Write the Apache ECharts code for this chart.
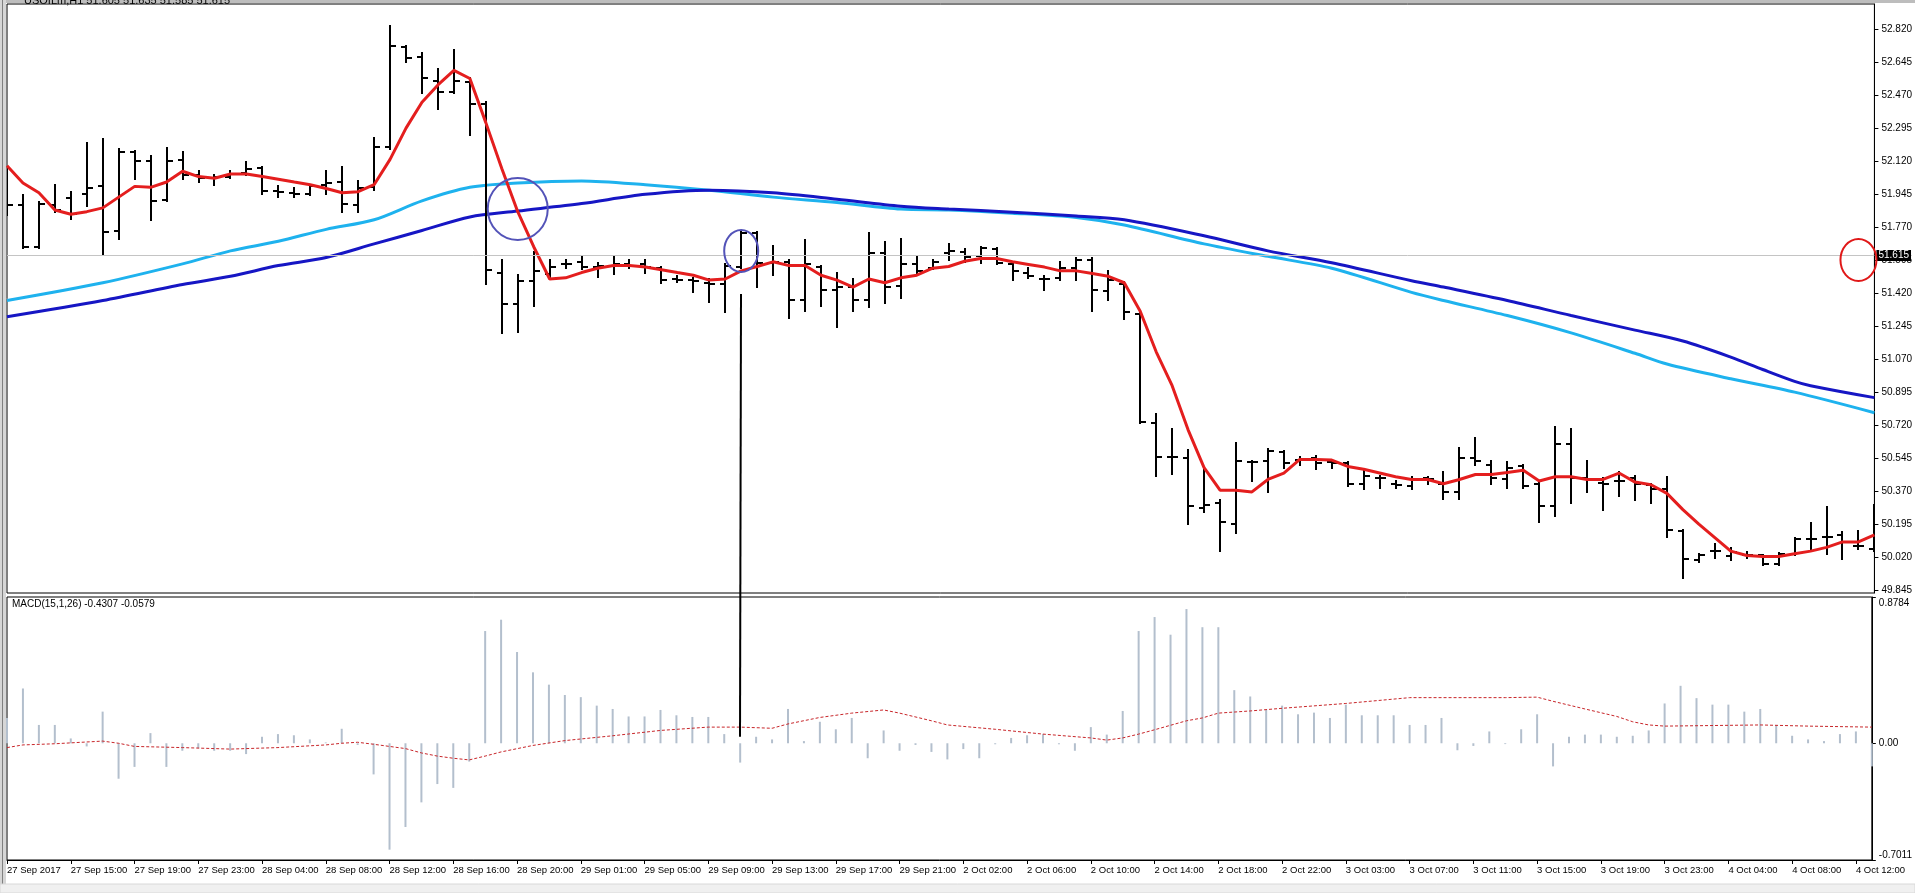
<!DOCTYPE html>
<html><head><meta charset="utf-8">
<script src="https://cdn.jsdelivr.net/npm/echarts@6/dist/echarts.min.js"></script>
<style>html,body{margin:0;padding:0;background:#fff;overflow:hidden}#c{width:1915px;height:893px}</style>
</head><body><div id="c"></div>
<script>
const categories = [
'27 Sep 11:00','27 Sep 12:00','27 Sep 13:00','27 Sep 14:00','27 Sep 15:00','27 Sep 16:00','27 Sep 17:00','27 Sep 18:00','27 Sep 19:00','27 Sep 20:00','27 Sep 21:00','27 Sep 22:00','27 Sep 23:00',
'28 Sep 01:00','28 Sep 02:00','28 Sep 03:00','28 Sep 04:00','28 Sep 05:00','28 Sep 06:00','28 Sep 07:00','28 Sep 08:00','28 Sep 09:00','28 Sep 10:00','28 Sep 11:00','28 Sep 12:00','28 Sep 13:00','28 Sep 14:00','28 Sep 15:00','28 Sep 16:00','28 Sep 17:00','28 Sep 18:00','28 Sep 19:00','28 Sep 20:00','28 Sep 21:00','28 Sep 22:00','28 Sep 23:00',
'29 Sep 01:00','29 Sep 02:00','29 Sep 03:00','29 Sep 04:00','29 Sep 05:00','29 Sep 06:00','29 Sep 07:00','29 Sep 08:00','29 Sep 09:00','29 Sep 10:00','29 Sep 11:00','29 Sep 12:00','29 Sep 13:00','29 Sep 14:00','29 Sep 15:00','29 Sep 16:00','29 Sep 17:00','29 Sep 18:00','29 Sep 19:00','29 Sep 20:00','29 Sep 21:00','29 Sep 22:00','29 Sep 23:00',
'2 Oct 01:00','2 Oct 02:00','2 Oct 03:00','2 Oct 04:00','2 Oct 05:00','2 Oct 06:00','2 Oct 07:00','2 Oct 08:00','2 Oct 09:00','2 Oct 10:00','2 Oct 11:00','2 Oct 12:00','2 Oct 13:00','2 Oct 14:00','2 Oct 15:00','2 Oct 16:00','2 Oct 17:00','2 Oct 18:00','2 Oct 19:00','2 Oct 20:00','2 Oct 21:00','2 Oct 22:00','2 Oct 23:00',
'3 Oct 01:00','3 Oct 02:00','3 Oct 03:00','3 Oct 04:00','3 Oct 05:00','3 Oct 06:00','3 Oct 07:00','3 Oct 08:00','3 Oct 09:00','3 Oct 10:00','3 Oct 11:00','3 Oct 12:00','3 Oct 13:00','3 Oct 14:00','3 Oct 15:00','3 Oct 16:00','3 Oct 17:00','3 Oct 18:00','3 Oct 19:00','3 Oct 20:00','3 Oct 21:00','3 Oct 22:00','3 Oct 23:00',
'4 Oct 01:00','4 Oct 02:00','4 Oct 03:00','4 Oct 04:00','4 Oct 05:00','4 Oct 06:00','4 Oct 07:00','4 Oct 08:00','4 Oct 09:00','4 Oct 10:00','4 Oct 11:00','4 Oct 12:00','4 Oct 13:00'
];
const firstLabel = '27 Sep 2017';

const openP = [
52.039,51.890,51.667,51.890,51.925,51.947,51.987,51.753,52.167,52.119,
51.916,52.125,52.045,52.033,52.039,52.056,52.082,51.965,51.953,51.947,
51.993,52.010,51.890,51.982,52.196,52.725,52.673,52.547,52.487,52.539,
52.425,51.530,51.362,51.487,51.525,51.573,51.587,51.559,51.567,51.576,
51.576,51.553,51.496,51.490,51.473,51.467,51.559,51.739,51.582,51.587,
51.382,51.559,51.439,51.453,51.382,51.633,51.459,51.576,51.553,51.633,
51.639,51.616,51.653,51.576,51.530,51.496,51.502,51.553,51.596,51.433,
51.467,51.310,50.730,50.553,50.547,50.282,50.310,50.196,50.525,50.530,
50.576,50.536,50.547,50.525,50.519,50.410,50.439,50.410,50.396,50.439,
50.410,50.367,50.547,50.510,50.433,50.502,50.410,50.290,50.619,50.439,
50.416,50.425,50.439,50.405,50.382,50.159,50.005,50.053,50.025,50.033,
50.030,49.987,50.039,50.119,50.130,50.139,50.082,50.062];
const highP = [
52.082,51.939,51.902,51.996,51.959,52.216,52.239,52.187,52.176,52.147,
52.193,52.167,52.067,52.045,52.067,52.116,52.090,51.987,51.976,51.993,
52.067,52.090,52.016,52.245,52.839,52.730,52.696,52.610,52.710,52.559,
52.433,51.596,51.519,51.639,51.596,51.596,51.616,51.582,51.616,51.596,
51.596,51.559,51.510,51.502,51.496,51.576,51.753,51.747,51.673,51.596,
51.702,51.567,51.530,51.496,51.739,51.690,51.710,51.610,51.596,51.682,
51.653,51.667,51.662,51.582,51.553,51.510,51.587,51.605,51.605,51.539,
51.482,51.319,50.782,50.702,50.587,50.496,50.325,50.625,50.530,50.596,
50.582,50.553,50.559,50.530,50.525,50.482,50.453,50.425,50.445,50.445,
50.473,50.602,50.653,50.530,50.525,50.510,50.416,50.710,50.702,50.530,
50.439,50.473,50.453,50.410,50.445,50.167,50.039,50.090,50.067,50.047,
50.033,50.045,50.125,50.202,50.287,50.153,50.159,50.296];
const lowP = [
51.833,51.662,51.662,51.853,51.816,51.882,51.625,51.710,52.025,51.810,
51.910,52.025,52.010,51.996,52.033,52.045,51.947,51.930,51.930,51.942,
51.947,51.853,51.853,51.967,52.187,52.645,52.482,52.396,52.482,52.262,
51.467,51.210,51.216,51.353,51.496,51.553,51.547,51.505,51.525,51.553,
51.530,51.473,51.482,51.425,51.376,51.319,51.553,51.453,51.519,51.290,
51.325,51.353,51.239,51.325,51.347,51.367,51.396,51.525,51.547,51.596,
51.587,51.582,51.576,51.490,51.502,51.439,51.490,51.490,51.325,51.387,
51.282,50.730,50.453,50.462,50.196,50.262,50.053,50.147,50.425,50.367,
50.496,50.510,50.490,50.496,50.396,50.382,50.387,50.387,50.382,50.410,
50.330,50.330,50.510,50.410,50.387,50.387,50.205,50.239,50.310,50.367,
50.273,50.347,50.325,50.310,50.130,49.910,49.996,50.016,50.005,50.016,
49.982,49.982,50.033,50.053,50.039,50.010,50.062,50.053];
const closeP = [
51.890,51.667,51.896,51.862,51.839,51.976,51.745,52.167,52.119,51.910,
52.119,52.045,52.033,52.039,52.053,52.079,51.965,51.959,51.947,51.987,
52.005,51.896,51.976,52.196,52.730,52.667,52.559,52.490,52.547,52.425,
51.545,51.362,51.487,51.539,51.559,51.573,51.559,51.567,51.576,51.567,
51.559,51.490,51.490,51.487,51.467,51.567,51.739,51.582,51.587,51.382,
51.573,51.439,51.453,51.382,51.633,51.453,51.576,51.539,51.587,51.645,
51.610,51.662,51.582,51.539,51.510,51.496,51.553,51.596,51.439,51.490,
51.319,50.739,50.553,50.553,50.290,50.296,50.205,50.530,50.525,50.582,
50.519,50.536,50.519,50.519,50.410,50.453,50.439,50.405,50.433,50.433,
50.367,50.545,50.530,50.439,50.496,50.396,50.290,50.619,50.439,50.433,
50.410,50.425,50.410,50.382,50.167,50.010,50.033,50.053,50.047,50.033,
49.987,50.039,50.119,50.119,50.130,50.102,50.082,50.153];

const fastMA = [
52.096,52.005,51.953,51.862,51.839,51.853,51.873,51.930,51.987,51.982,
52.010,52.067,52.039,52.030,52.053,52.053,52.039,52.025,52.010,51.996,
51.976,51.953,51.959,51.996,52.130,52.296,52.433,52.525,52.602,52.559,
52.325,52.082,51.853,51.667,51.496,51.502,51.530,51.553,51.567,51.567,
51.559,51.545,51.530,51.516,51.490,51.496,51.539,51.562,51.587,51.567,
51.567,51.516,51.490,51.453,51.496,51.476,51.502,51.516,51.553,51.562,
51.590,51.605,51.605,51.587,51.573,51.559,51.539,51.539,51.525,51.510,
51.476,51.325,51.110,50.930,50.696,50.496,50.376,50.376,50.367,50.433,
50.467,50.539,50.539,50.536,50.502,50.487,50.467,50.447,50.433,50.433,
50.410,50.433,50.459,50.459,50.470,50.482,50.425,50.447,50.447,50.433,
50.433,50.467,50.419,50.405,50.359,50.273,50.196,50.125,50.053,50.030,
50.025,50.025,50.039,50.053,50.073,50.102,50.102,50.139];

const lightMA = [[0,51.382],[6,51.476],[11,51.576],[14,51.645],[17,51.696],[20,51.759],[23,51.810],[26,51.910],[29,51.982],[32,52.005],[36,52.016],[40,51.996],[44,51.967],[48,51.930],[52,51.902],[56,51.867],[59,51.862],[63,51.845],[67,51.822],[70,51.782],[75,51.682],[79,51.616],[83,51.553],[88,51.425],[90,51.382],[94,51.302],[98,51.210],[102,51.102],[104,51.045],[108,50.967],[112,50.896],[117,50.787]];
const darkMA = [[0,51.296],[6,51.382],[11,51.467],[14,51.510],[17,51.567],[20,51.610],[23,51.682],[26,51.753],[29,51.825],[32,51.856],[36,51.896],[40,51.945],[44,51.967],[48,51.953],[52,51.919],[56,51.882],[59,51.867],[63,51.850],[67,51.830],[70,51.810],[75,51.725],[79,51.645],[83,51.582],[88,51.487],[90,51.453],[94,51.382],[98,51.302],[102,51.225],[105,51.167],[108,51.082],[110,51.016],[112,50.953],[113,50.930],[117,50.867]];

const macdHist = [
0.152,0.329,0.110,0.110,0.029,-0.019,0.190,-0.213,-0.142,0.061,
-0.142,-0.045,-0.030,-0.045,-0.045,-0.065,0.039,0.055,0.048,0.023,
0.005,0.087,-0.010,-0.187,-0.639,-0.503,-0.355,-0.245,-0.268,-0.110,
0.674,0.742,0.548,0.426,0.352,0.290,0.277,0.226,0.206,0.161,
0.161,0.200,0.168,0.158,0.158,0.055,-0.116,0.039,0.023,0.206,
0.013,0.129,0.084,0.152,-0.090,0.077,-0.045,-0.010,-0.052,-0.097,
-0.035,-0.090,-0.006,0.032,0.048,0.055,-0.006,-0.045,0.097,0.052,
0.194,0.674,0.758,0.652,0.806,0.697,0.697,0.319,0.281,0.200,
0.226,0.174,0.184,0.152,0.232,0.168,0.168,0.168,0.110,0.110,
0.152,-0.042,-0.016,0.071,-0.005,0.084,0.174,-0.139,0.039,0.052,
0.052,0.039,0.045,0.077,0.239,0.345,0.271,0.232,0.232,0.190,
0.206,0.110,0.045,0.023,0.013,0.055,0.071,-0.139];
const macdSignal = [[0,-0.026],[1,-0.010],[3,-0.003],[6,0.013],[7,0.000],[8,-0.019],[11,-0.026],[14,-0.035],[17,-0.026],[20,-0.010],[21,0.000],[22,0.006],[23,-0.006],[24,-0.019],[25,-0.032],[26,-0.058],[27,-0.077],[28,-0.090],[29,-0.100],[30,-0.077],[31,-0.052],[33,-0.013],[35,0.016],[38,0.045],[41,0.077],[44,0.097],[46,0.097],[48,0.090],[49,0.116],[51,0.155],[53,0.181],[55,0.200],[56,0.181],[58,0.135],[59,0.110],[62,0.084],[65,0.055],[68,0.032],[69,0.019],[70,0.032],[71,0.055],[72,0.081],[74,0.135],[75,0.152],[76,0.181],[78,0.194],[80,0.210],[84,0.239],[88,0.274],[94,0.274],[96,0.277],[97,0.252],[99,0.206],[101,0.161],[102,0.129],[103,0.110],[104,0.103],[110,0.110],[113,0.103],[117,0.097]];

const priceTicks = [49.845,50.020,50.195,50.370,50.545,50.720,50.895,51.070,51.245,51.420,51.595,51.770,51.945,52.120,52.295,52.470,52.645,52.820];
const macdTicks = [-0.7011,0,0.8784];
const currentPrice = 51.615;
const titleText = 'USOILm,H1 51.605 51.635 51.585 51.615';
const macdText = 'MACD(15,1,26) -0.4307 -0.0579';

const FONT = 'Liberation Sans';
const chart = echarts.init(document.getElementById('c'), null, {renderer:'canvas'});

const ohlcData = categories.map((c,i)=>[i, openP[i], highP[i], lowP[i], closeP[i]]);

function renderOHLC(params, api){
  const i = api.value(0);
  const o = api.coord([i, api.value(1)]);
  const h = api.coord([i, api.value(2)]);
  const l = api.coord([i, api.value(3)]);
  const c = api.coord([i, api.value(4)]);
  const x = Math.round(h[0]);
  const st = {stroke:'#000', lineWidth:2};
  return {type:'group', children:[
    {type:'line', shape:{x1:x, y1:Math.round(h[1])-1, x2:x, y2:Math.round(l[1])+1}, style:st},
    {type:'line', shape:{x1:x-5, y1:Math.round(o[1]), x2:x, y2:Math.round(o[1])}, style:st},
    {type:'line', shape:{x1:x, y1:Math.round(c[1]), x2:x+6, y2:Math.round(c[1])}, style:st}
  ]};
}

const option = {
  animation:false,
  backgroundColor:'#fff',
  grid:[
    {left:7, right:34, top:4, height:589, show:true, borderColor:'#000', borderWidth:1, backgroundColor:'#fff'},
    {left:7, right:34, top:597, height:263, show:true, borderColor:'#000', borderWidth:1, backgroundColor:'#fff'}
  ],
  xAxis:[
    {type:'category', gridIndex:0, data:categories, boundaryGap:false, axisLine:{show:false, onZero:false}, axisTick:{show:false}, axisLabel:{show:false}, splitLine:{show:false}},
    {type:'category', gridIndex:1, data:categories, boundaryGap:false,
      axisLine:{show:true, onZero:false, lineStyle:{color:'#000', width:1}},
      axisTick:{show:true, interval:3, length:4, lineStyle:{color:'#000'}},
      axisLabel:{interval:3, align:'left', margin:5, fontSize:9.5, fontFamily:FONT, color:'#000',
        formatter:(v,idx)=> idx===0 ? firstLabel : v},
      splitLine:{show:false}}
  ],
  yAxis:[
    {type:'value', gridIndex:0, position:'right', min:49.831, max:52.954,
      axisLine:{show:true, onZero:false, lineStyle:{color:'#000'}},
      axisTick:{show:true, length:4, customValues:priceTicks, lineStyle:{color:'#000'}},
      axisLabel:{customValues:priceTicks, formatter:v=>v.toFixed(3), fontSize:10, margin:7, color:'#000', fontFamily:FONT},
      splitLine:{show:false}},
    {type:'value', gridIndex:1, position:'right', min:-0.7011, max:0.8784,
      axisLine:{show:true, onZero:false, lineStyle:{color:'#000'}},
      axisTick:{show:true, length:4, customValues:macdTicks, lineStyle:{color:'#000'}},
      axisLabel:{customValues:macdTicks, fontSize:10, margin:7, color:'#000', fontFamily:FONT,
        formatter:v=> v===0 ? '{m|0.00}' : (v>0 ? '{t|'+v.toFixed(4)+'}' : '{b|'+v.toFixed(4)+'}'),
        rich:{m:{fontSize:10, fontFamily:FONT, color:'#000'},
              t:{fontSize:10, fontFamily:FONT, color:'#000', padding:[12,0,0,0]},
              b:{fontSize:10, fontFamily:FONT, color:'#000', padding:[0,0,10,0]}}},
      splitLine:{show:false}}
  ],
  series:[
    {name:'price line', type:'line', xAxisIndex:0, yAxisIndex:0, data:[], symbol:'none', z:1,
      markLine:{silent:true, symbol:['none','none'], animation:false,
        lineStyle:{color:'#C4C4C4', width:1, type:'solid'},
        label:{show:true, position:'end', distance:2, formatter:()=>currentPrice.toFixed(3), color:'#fff', backgroundColor:'#000', padding:[1,2,0,2], fontSize:10, fontFamily:FONT},
        data:[{yAxis:currentPrice}]}},
    {name:'MA light', type:'line', xAxisIndex:0, yAxisIndex:0, data:lightMA, symbol:'none', smooth:0.3, z:2,
      lineStyle:{color:'#1EB2EE', width:3}},
    {name:'MA dark', type:'line', xAxisIndex:0, yAxisIndex:0, data:darkMA, symbol:'none', smooth:0.3, z:2,
      lineStyle:{color:'#1616C4', width:3}},
    {name:'OHLC', type:'custom', xAxisIndex:0, yAxisIndex:0, data:ohlcData, renderItem:renderOHLC, clip:true, z:3,
      encode:{x:0, y:[1,2,3,4]}},
    {name:'MA fast', type:'line', xAxisIndex:0, yAxisIndex:0, data:fastMA, symbol:'none', z:4,
      lineStyle:{color:'#E41E1E', width:3}},
    {name:'MACD', type:'bar', xAxisIndex:1, yAxisIndex:1, data:macdHist, barWidth:2, z:2,
      itemStyle:{color:'#B3BFCD'}},
    {name:'Signal', type:'line', xAxisIndex:1, yAxisIndex:1, data:macdSignal, symbol:'none', z:3,
      lineStyle:{color:'#C8262A', width:1, type:[3,2]}}
  ],
  graphic:[
    {id:'topband', type:'rect', shape:{x:0, y:0, width:1915, height:3}, style:{fill:'#BDBDBD'}, z:10},
    {id:'leftband', type:'rect', shape:{x:0, y:0, width:6, height:884}, style:{fill:'#D6D6D6'}, z:10},
    {id:'leftdark', type:'rect', shape:{x:2, y:0, width:1, height:884}, style:{fill:'#808080'}, z:10},
    {id:'bottomband', type:'rect', shape:{x:0, y:884, width:1915, height:9}, style:{fill:'#F0F0F0', stroke:'#D8D8D8', lineWidth:1}, z:10},
    {id:'title', type:'text', x:24, y:-5, z:11, style:{text:titleText, fill:'#000', font:'11px '+FONT}},
    {id:'macdlbl', type:'text', x:12, y:599, z:11, style:{text:macdText, fill:'#000', font:'10px '+FONT}}
  ]
};
chart.setOption(option);

// annotations anchored to the chart's scales
const circle1 = [32.1, 51.867], circle2 = [46, 51.644], circleR = [115.6, 51.597];
const vStart = [46, 51.416], vEnd = [46, 0.039];
const g0 = {xAxisIndex:0, yAxisIndex:0}, g1 = {xAxisIndex:1, yAxisIndex:1};
const c1 = chart.convertToPixel(g0, circle1);
const c2 = chart.convertToPixel(g0, circle2);
const c3 = chart.convertToPixel(g0, circleR);
const v1 = chart.convertToPixel(g0, vStart);
const v2 = chart.convertToPixel(g1, vEnd);
chart.setOption({graphic:[
  {id:'vline', type:'line', z:5, shape:{x1:Math.round(v1[0]), y1:v1[1], x2:Math.round(v2[0]), y2:v2[1]}, style:{stroke:'#000', lineWidth:2}},
  {id:'ell1', type:'ellipse', z:6, shape:{cx:c1[0], cy:c1[1], rx:30, ry:31}, style:{fill:null, stroke:'#5353B8', lineWidth:2}},
  {id:'ell2', type:'ellipse', z:6, shape:{cx:c2[0], cy:c2[1], rx:17, ry:21}, style:{fill:null, stroke:'#5353B8', lineWidth:2}},
  {id:'ell3', type:'ellipse', z:6, shape:{cx:c3[0], cy:c3[1], rx:18, ry:21}, style:{fill:null, stroke:'#E01818', lineWidth:2}}
]});
</script>
</body></html>
